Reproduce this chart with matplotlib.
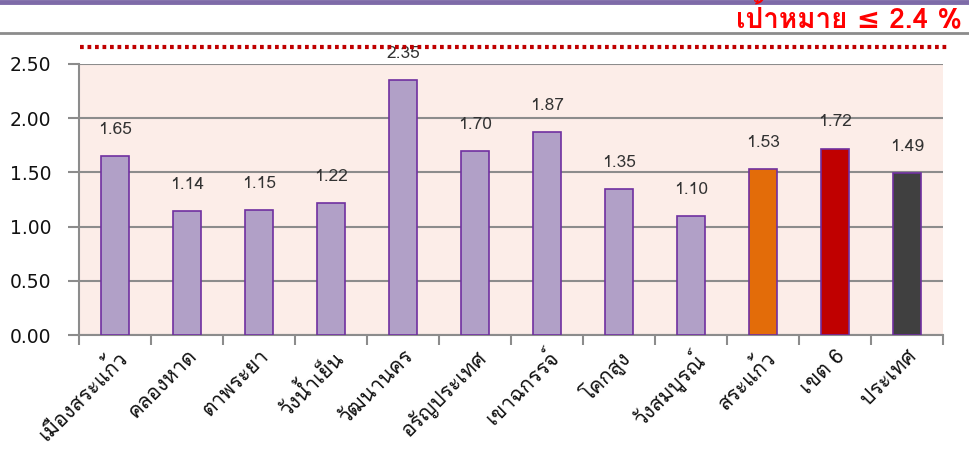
import matplotlib
matplotlib.use("Agg")
import matplotlib.pyplot as plt
from matplotlib import font_manager
from matplotlib.lines import Line2D
import numpy as np

# ข้อมูล
districts = ['เมืองสระแก้ว', 'คลองหาด', 'ตาพระยา', 'วังน้ำเย็น', 'วัฒนานคร',
             'อรัญประเทศ', 'เขาฉกรรจ์', 'โคกสูง', 'วังสมบูรณ์', 'สระแก้ว',
             'เขต 6', 'ประเทศ']
rates = [1.65, 1.14, 1.15, 1.22, 2.35, 1.70, 1.87, 1.35, 1.10, 1.53, 1.72, 1.49]
bar_colors = ['#B1A0C7'] * 9 + ['#E36C09', '#C00000', '#404040']
yticks = [0.0, 0.5, 1.0, 1.5, 2.0, 2.5]
target_text = 'เป้าหมาย ≤ 2.4 %'


def find_thai_font():
    # หาฟอนต์ที่มีตัวอักษรไทย
    from fontTools.ttLib import TTFont
    preferred = ['Tahoma', 'Loma', 'Garuda', 'Noto Sans Thai', 'Noto Sans Thai UI',
                 'Norasi', 'Kinnari', 'Waree', 'Umpush', 'Sawasdee']
    found = []
    for f in font_manager.fontManager.ttflist:
        try:
            tt = TTFont(f.fname, fontNumber=0, lazy=True)
            cmap = tt.getBestCmap()
            if cmap and 0x0E01 in cmap:
                found.append(f.name)
        except Exception:
            pass
    for name in preferred:
        if name in found:
            return name
    return found[0] if found else 'DejaVu Sans'


thai = find_thai_font()
fams = [thai, 'DejaVu Sans']

fig = plt.figure(figsize=(9.7, 4.61), dpi=100)
ax = fig.add_axes([79 / 970, 126 / 461, 864 / 970, 271 / 461])
ax.set_facecolor('#FCEDE8')

x = np.arange(len(districts))
bars = ax.bar(x, rates, width=0.4, color=bar_colors, edgecolor='#7030A0',
              linewidth=1.2, zorder=3)
for b, v in zip(bars, rates):
    ax.annotate(f'{v:.2f}', (b.get_x() + b.get_width() / 2, v),
                xytext=(0, 13), textcoords='offset points',
                ha='center', va='bottom', fontsize=12.5, color='#333333',
                family=fams)

ax.set_xlim(-0.5, len(districts) - 0.5)
ax.set_ylim(0, 2.5)
ax.set_yticks(yticks)
ax.set_yticklabels([f'{t:.2f}' for t in yticks], fontsize=13.5,
                   family='DejaVu Sans', color='#111111')
ax.yaxis.grid(True, color='#8C8C8C', linewidth=1.5, zorder=1)
ax.set_axisbelow(True)
ax.tick_params(axis='y', length=8, width=1.5, color='#8C8C8C', pad=12)

ax.set_xticks(x)
ax.set_xticklabels(districts, rotation=45, ha='right', rotation_mode='anchor',
                   fontsize=15, family=fams, color='#111111')
ax.tick_params(axis='x', which='major', length=0, pad=8)
ax.set_xticks(np.arange(-0.5, len(districts)), minor=True)
ax.tick_params(axis='x', which='minor', length=7, width=1.5, color='#8C8C8C')

for s in ['top', 'right']:
    ax.spines[s].set_visible(False)
for s in ['left', 'bottom']:
    ax.spines[s].set_color('#8C8C8C')
    ax.spines[s].set_linewidth(1.5)

# แถบด้านบนและเส้นคั่น
fig.add_artist(Line2D([0, 1], [1 - 2 / 461, 1 - 2 / 461], color='#7E6BA8',
                      linewidth=3.5, transform=fig.transFigure))
fig.add_artist(Line2D([0, 1], [1 - 33 / 461, 1 - 33 / 461], color='#8C8C8C',
                      linewidth=2, transform=fig.transFigure))
fig.add_artist(Line2D([80 / 970, 950 / 970], [1 - 47 / 461, 1 - 47 / 461],
                      color='#C00000', linewidth=3, linestyle=(0, (0.9, 0.9)),
                      transform=fig.transFigure))
fig.text(962 / 970, 1 - 28 / 461, target_text, ha='right', va='baseline',
         fontsize=20, fontweight='bold', color='#FF0000', family=fams)

fig.savefig('out.png', dpi=100)
